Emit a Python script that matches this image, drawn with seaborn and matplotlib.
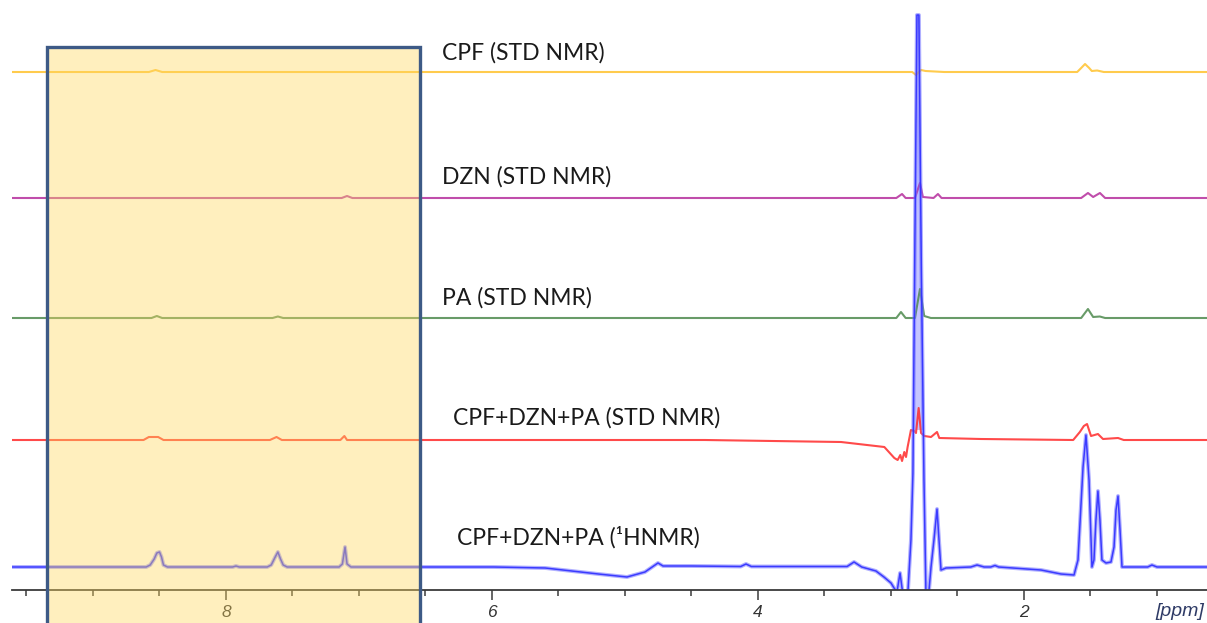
"""
Stacked STD / 1H NMR spectra of CPF, DZN, PA and their mixture.
"""

import numpy as np
import matplotlib.pyplot as plt
import seaborn as sns
from matplotlib.patches import Rectangle

sns.set_theme(style="white")
plt.rcParams["font.family"] = ["Lato", "DejaVu Sans"]

# ── Spectra: chemical shift (ppm) and height above baseline
cpf_ppm = [9.61, 8.58, 8.53, 8.48, 2.84, 2.812, 2.79, 2.774, 2.74, 2.60,
           1.60, 1.57, 1.541, 1.51, 1.49, 1.45, 1.40, 0.62]
cpf_int = [0, 0, 2, 0, 0, -3, 0, 2, 1, 0,
           0, 4, 8, 4, 1, 1.5, 0, 0]

dzn_ppm = [9.61, 7.13, 7.09, 7.05, 2.96, 2.917, 2.89, 2.82, 2.782, 2.76,
           2.68, 2.647, 2.62, 1.57, 1.519, 1.48, 1.429, 1.39, 0.62]
dzn_int = [0, 0, 2, 0, 0, 4, 0, 0, 15, 1,
           0, 4, 0, 0, 5, 1, 5, 0, 0]

pa_ppm = [9.61, 8.56, 8.52, 8.48, 7.65, 7.61, 7.57, 2.96, 2.925, 2.89,
          2.82, 2.782, 2.75, 2.70, 1.57, 1.519, 1.48, 1.43, 1.39, 0.62]
pa_int = [0, 0, 2, 0, 0, 1.5, 0, 0, 6, 0,
          0, 29, 2, 0, 0, 9, 1, 1.5, 0, 0]

mix_std_ppm = [9.61, 8.62, 8.58, 8.51, 8.47, 7.67, 7.62, 7.58, 7.14, 7.11,
               7.09, 4.40, 3.376, 3.050, 2.975, 2.950, 2.930, 2.917, 2.900, 2.887,
               2.875, 2.850, 2.825, 2.812, 2.792, 2.774, 2.749, 2.699, 2.654, 2.637,
               2.323, 1.63, 1.58, 1.55, 1.526, 1.496, 1.444, 1.406, 1.293, 1.25,
               0.62]
mix_std_int = [0, 0, 3, 3, 0, 0, 3, 0, 0, 4,
               0, 0, -2, -7, -18, -20, -15, -21, -12, -17,
               -7, 10, 9, 7, 32, 7, 4, 3, 8, 2,
               1, 0, 8, 14, 16, 4, 6, 1, 2, 0,
               0]

mix_h_ppm = [9.61, 8.60, 8.57, 8.54, 8.52, 8.50, 8.485, 8.47, 8.44, 7.95,
             7.925, 7.90, 7.69, 7.66, 7.63, 7.61, 7.59, 7.57, 7.54, 7.15,
             7.125, 7.105, 7.09, 7.06, 5.985, 5.60, 5.40, 5.20, 4.985, 4.85,
             4.752, 4.714, 4.50, 4.13, 4.09, 4.05, 3.33, 3.278, 3.22, 3.113,
             3.053, 3.000, 2.977, 2.955, 2.932, 2.910, 2.872, 2.850, 2.835, 2.822,
             2.805, 2.790, 2.772, 2.752, 2.737, 2.714, 2.699, 2.677, 2.654, 2.639,
             2.624, 2.586, 2.40, 2.353, 2.30, 2.25, 2.218, 2.19, 1.872, 1.722,
             1.624, 1.594, 1.556, 1.534, 1.511, 1.489, 1.474, 1.459, 1.444, 1.429,
             1.414, 1.383, 1.346, 1.323, 1.308, 1.293, 1.278, 1.263, 1.20, 1.07,
             1.038, 1.00, 0.62]
mix_h_int = [0, 0, 2, 8, 14, 15, 10, 2, 0, 0,
             1, 0, 0, 2, 10, 15, 8, 2, 0, 0,
             3, 20, 3, 0, 0, -1, -4, -7, -10, -5,
             4, 1, 1, 0.5, 3, 0.5, 0.5, 5, 0, -4,
             -10, -16, -21, -25, -6, -28, -23, 27, 94, 300,
             552, 552, 300, 87, -28, -23, 0, 27, 58, 27,
             -3, -1, 0, 2, 0, 0, 1.5, 0, -3, -7,
             -8, 7, 100, 132, 87, 0, 7, 47, 76, 47,
             7, 4, 5, 20, 57, 71, 37, 0, 0, 0,
             2, 0, 0]

labels = ["CPF (STD NMR)", "DZN (STD NMR)", "PA (STD NMR)",
          "CPF+DZN+PA (STD NMR)", "CPF+DZN+PA (\u00b9HNMR)"]
major_ticks = [8, 6, 4, 2]
minor_ticks = [9.5, 9, 8.5, 7.5, 7, 6.5, 5.5, 5, 4.5, 3.5, 3, 2.5, 1.5, 1]

# ── Stacking / styling ───────────────────────────────────────────────────────
spectra = [(cpf_ppm, cpf_int), (dzn_ppm, dzn_int), (pa_ppm, pa_int),
           (mix_std_ppm, mix_std_int), (mix_h_ppm, mix_h_int)]
offsets = [517.5, 391.5, 271.5, 149.5, 22.5]
colors = ["#FFC22E", "#B52E9C", "#4E8A4E", "#FF2A2A", "#2E2EFF"]
label_pos = [(6.376, 536.5), (6.376, 412.5), (6.376, 291.5), (6.293, 171.5), (6.263, 52.5)]

fig = plt.figure(figsize=(12.07, 6.23), dpi=100)
ax = fig.add_axes([12 / 1207, 33.5 / 623, 1 - 12 / 1207, 589.5 / 623])

for (ppm, inten), off, col, lab, (tx, ty) in zip(spectra, offsets, colors, labels, label_pos):
    y = np.array(inten, dtype=float) + off
    if col == "#2E2EFF":
        # 1H trace: soft halo with a darker core; the clipped solvent peak is shaded
        x = np.array(ppm)
        ax.fill_between(x, y, 160, where=y > 160, color="#8C8CFF", alpha=0.5,
                        lw=0, interpolate=True)
        sns.lineplot(x=ppm, y=y, ax=ax, color="#7070FF", lw=2.8, alpha=0.55,
                     sort=False, estimator=None, legend=False)
        sns.lineplot(x=ppm, y=y, ax=ax, color=col, lw=1.1, alpha=0.9,
                     sort=False, estimator=None, legend=False)
    else:
        sns.lineplot(x=ppm, y=y, ax=ax, color=col, lw=1.5, alpha=0.85,
                     sort=False, estimator=None, legend=False)
    ax.text(tx, ty, lab, fontsize=16.5, color="#1a1a1a", va="center", ha="left")

ax.set_xlim(9.609, 0.624)
ax.set_ylim(0, 589.5)

# highlighted aromatic region (semi-transparent overlay on top of the traces)
ax.add_patch(Rectangle((6.541, -40), 9.346 - 6.541, 582.5, facecolor="#FFD75E",
                       alpha=0.4, edgecolor="none", zorder=10, clip_on=False))
ax.add_patch(Rectangle((6.541, -40), 9.346 - 6.541, 582.5, facecolor="none",
                       edgecolor="#3D5A86", lw=2.4, zorder=11, clip_on=False))

ax.set_xticks(major_ticks)
ax.set_xticklabels([str(t) for t in major_ticks])
ax.set_xticks(minor_ticks, minor=True)
ax.set_yticks([])
for side in ["top", "left", "right"]:
    ax.spines[side].set_visible(False)
ax.spines["bottom"].set_color("#3a3a3a")
ax.spines["bottom"].set_linewidth(1.3)
ax.tick_params(axis="x", which="major", direction="out", length=7.5, width=1.1,
               color="#3a3a3a", pad=4, labelsize=12.5, labelcolor="#333333", bottom=True)
ax.tick_params(axis="x", which="minor", direction="out", length=4.5, width=1.1,
               color="#3a3a3a", bottom=True)
for t in ax.get_xticklabels():
    t.set_fontstyle("italic")
    t.set_family(["Liberation Sans Narrow", "Liberation Sans"])
ax.set_xlabel("")
ax.patch.set_alpha(0)

fig.text(1204 / 1207, 1 - 611 / 623, "[ppm]", ha="right", va="center", fontsize=14,
         style="italic", color="#2F3B66", family=["Liberation Sans Narrow", "Liberation Sans"])

fig.savefig("out.png", dpi=100)
